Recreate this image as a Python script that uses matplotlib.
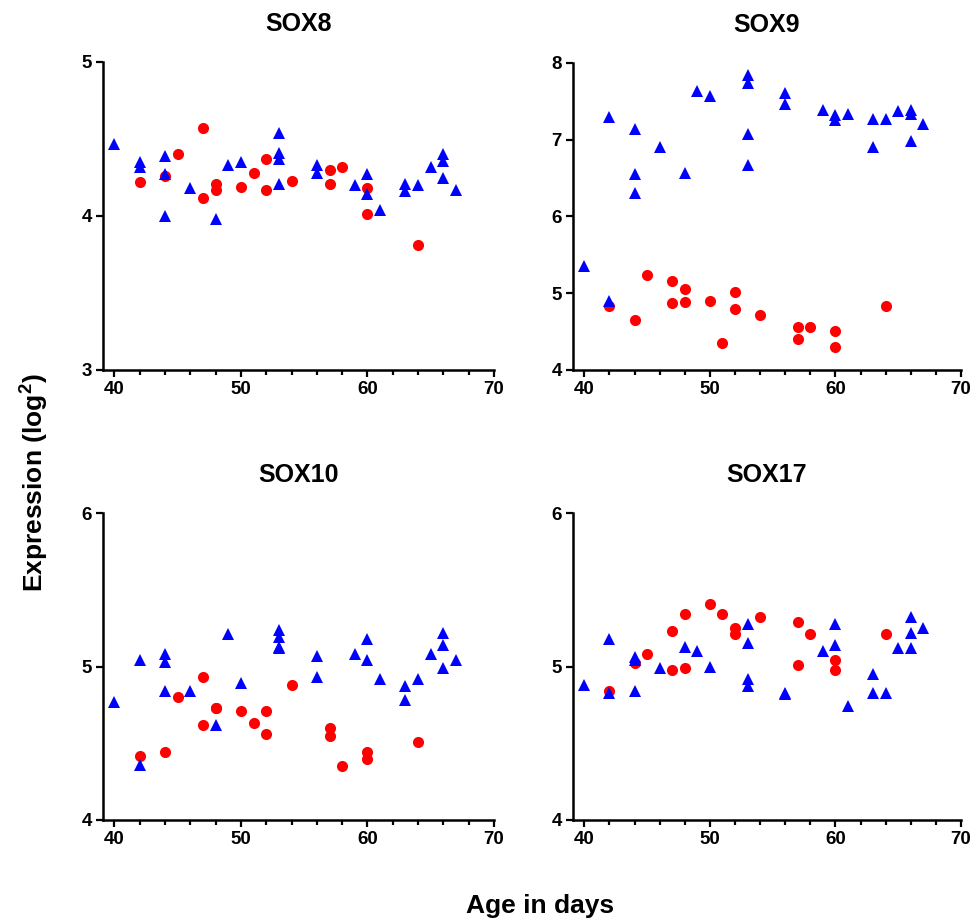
import matplotlib.pyplot as plt
from matplotlib.ticker import MultipleLocator

plt.rcParams['font.family'] = ['Liberation Sans', 'DejaVu Sans']
plt.rcParams['mathtext.fontset'] = 'custom'
plt.rcParams['mathtext.bf'] = 'Liberation Sans:bold'

# SOX8
sox8_blue_day = [40, 42, 42, 44, 44, 44, 46, 48, 49, 50, 53, 53, 53, 53,
                 56, 56, 59, 60, 60, 61, 63, 63, 64, 65, 66, 66, 66, 67]
sox8_blue_val = [4.47, 4.35, 4.32, 4.39, 4.27, 4.00, 4.18, 3.98, 4.33, 4.35, 4.54, 4.41, 4.37, 4.21,
                 4.33, 4.28, 4.20, 4.27, 4.14, 4.04, 4.21, 4.16, 4.20, 4.32, 4.40, 4.36, 4.25, 4.17]
sox8_red_day = [42, 44, 45, 47, 47, 48, 48, 50, 51, 52, 52, 54, 57, 57, 58, 60, 60, 64]
sox8_red_val = [4.22, 4.26, 4.40, 4.57, 4.12, 4.21, 4.17, 4.19, 4.28, 4.37, 4.17, 4.23,
                4.30, 4.21, 4.32, 4.18, 4.01, 3.81]

# SOX9
sox9_blue_day = [40, 42, 42, 44, 44, 44, 46, 48, 49, 50, 53, 53, 53, 53,
                 56, 56, 59, 60, 60, 61, 63, 63, 64, 65, 66, 66, 66, 67]
sox9_blue_val = [5.36, 7.30, 4.90, 7.14, 6.55, 6.31, 6.91, 6.57, 7.63, 7.57, 7.85, 7.74, 7.07, 6.67,
                 7.61, 7.46, 7.39, 7.32, 7.26, 7.33, 7.27, 6.91, 7.27, 7.37, 7.39, 7.33, 6.98, 7.20]
sox9_red_day = [42, 44, 45, 47, 47, 48, 48, 50, 51, 52, 52, 54, 57, 57, 58, 60, 60, 64]
sox9_red_val = [4.83, 4.65, 5.24, 5.16, 4.87, 5.06, 4.89, 4.90, 4.35, 5.02, 4.79, 4.72,
                4.56, 4.40, 4.56, 4.51, 4.30, 4.84]

# SOX10
sox10_blue_day = [40, 42, 42, 44, 44, 44, 46, 48, 49, 50, 53, 53, 53, 53,
                  56, 56, 59, 60, 60, 61, 63, 63, 64, 65, 66, 66, 66, 67]
sox10_blue_val = [4.77, 5.04, 4.36, 5.08, 5.03, 4.84, 4.84, 4.62, 5.21, 4.89, 5.24, 5.19, 5.13, 5.12,
                  5.07, 4.93, 5.08, 5.18, 5.04, 4.92, 4.87, 4.78, 4.92, 5.08, 5.22, 5.14, 4.99, 5.04]
sox10_red_day = [42, 44, 45, 47, 47, 48, 48, 50, 51, 52, 52, 54, 57, 57, 58, 60, 60, 64]
sox10_red_val = [4.42, 4.44, 4.80, 4.93, 4.62, 4.73, 4.73, 4.71, 4.63, 4.71, 4.56, 4.88,
                 4.60, 4.55, 4.35, 4.44, 4.40, 4.51]

# SOX17
sox17_blue_day = [40, 42, 42, 44, 44, 44, 46, 48, 49, 50, 53, 53, 53, 53,
                  56, 56, 59, 60, 60, 61, 63, 63, 64, 65, 66, 66, 66, 67]
sox17_blue_val = [4.88, 5.18, 4.83, 5.06, 5.04, 4.84, 4.99, 5.13, 5.10, 5.00, 5.28, 5.15, 4.92, 4.87,
                  4.83, 4.82, 5.10, 5.28, 5.14, 4.74, 4.95, 4.83, 4.83, 5.12, 5.32, 5.22, 5.12, 5.25]
sox17_red_day = [42, 44, 45, 47, 47, 48, 48, 50, 51, 52, 52, 54, 57, 57, 58, 60, 60, 64]
sox17_red_val = [4.84, 5.02, 5.08, 5.23, 4.98, 5.34, 4.99, 5.41, 5.34, 5.25, 5.21, 5.32,
                 5.29, 5.01, 5.21, 5.04, 4.98, 5.21]

panels = [
    ("SOX8", sox8_blue_day, sox8_blue_val, sox8_red_day, sox8_red_val, (3, 5)),
    ("SOX9", sox9_blue_day, sox9_blue_val, sox9_red_day, sox9_red_val, (4, 8)),
    ("SOX10", sox10_blue_day, sox10_blue_val, sox10_red_day, sox10_red_val, (4, 6)),
    ("SOX17", sox17_blue_day, sox17_blue_val, sox17_red_day, sox17_red_val, (4, 6)),
]

W, H = 977, 923
fig = plt.figure(figsize=(W / 100, H / 100), dpi=100)

# axes boxes in pixels: left, top, right, bottom
boxes = [(103, 62, 494, 370), (573, 63, 961, 370),
         (103, 513, 494, 820), (573, 513, 961, 820)]

for (name, bd, bv, rd, rv, ylim), (l, t, r, b) in zip(panels, boxes):
    ax = fig.add_axes([l / W, (H - b) / H, (r - l) / W, (b - t) / H])
    ax.plot(rd, rv, "o", color="#ff0000", markersize=8, markeredgewidth=0, clip_on=False)
    ax.plot(bd, bv, "^", color="#0000ff", markersize=8, markeredgewidth=0, clip_on=False)
    ax.set_xlim(39.1, 70)
    ax.set_ylim(*ylim)
    ax.set_xticks([40, 50, 60, 70])
    ax.xaxis.set_minor_locator(MultipleLocator(2))
    ax.yaxis.set_major_locator(MultipleLocator(1))
    for s in ["top", "right"]:
        ax.spines[s].set_visible(False)
    for s in ["left", "bottom"]:
        ax.spines[s].set_linewidth(1.8)
    ax.tick_params(which="major", length=5, width=1.6, labelsize=13.5, pad=3)
    ax.tick_params(which="minor", length=3.5, width=1.6)
    for lab in ax.get_xticklabels() + ax.get_yticklabels():
        lab.set_fontweight("bold")
    ax.set_title(name, fontsize=18, fontweight="bold", pad=22)

fig.text(0.034, 0.477, "Expression (log$^\\mathbf{2}$)", rotation=90, fontsize=19,
         fontweight="bold", ha="center", va="center")
fig.text(0.553, 0.018, "Age in days", fontsize=19, fontweight="bold", ha="center", va="center")

fig.savefig("out.png", dpi=100)
